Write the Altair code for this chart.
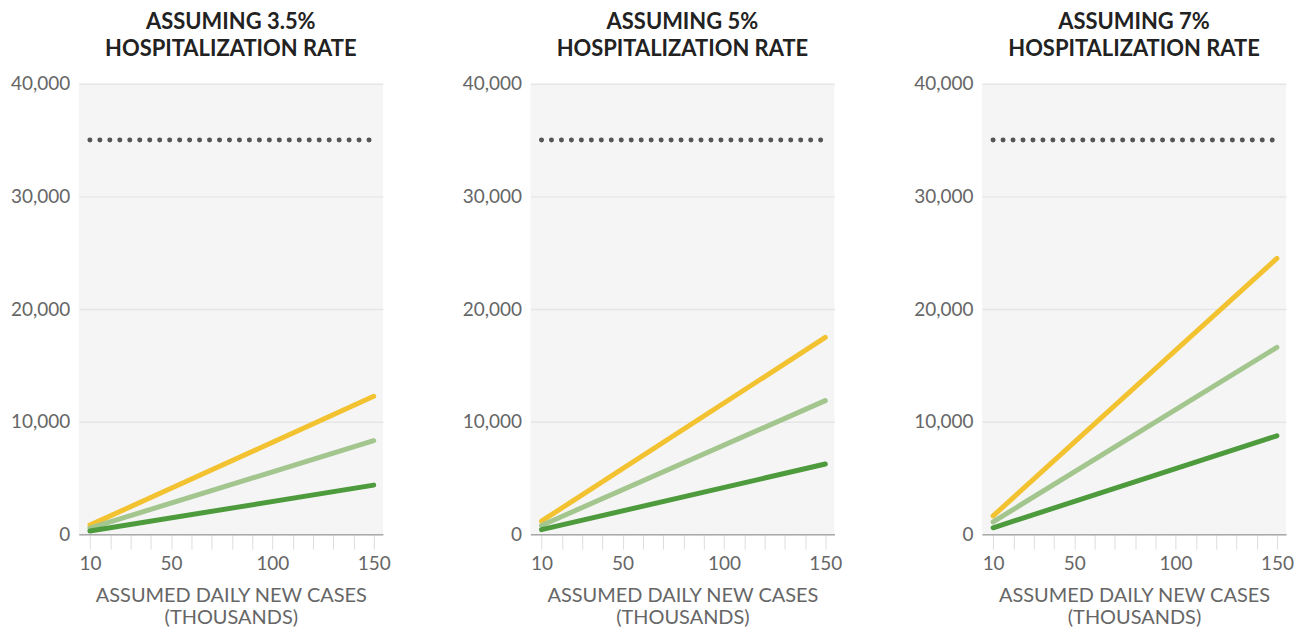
import altair as alt
import pandas as pd

# ---- data ----
rates = ["3.5%", "5%", "7%"]
cases = [10, 150]                      # assumed daily new cases (thousands)
series = ["High", "Medium", "Low"]
series_colors = ["#f2c230", "#a3c58e", "#4d9b3d"]

high_vals = {"3.5%": [817, 12250], "5%": [1167, 17480], "7%": [1633, 24500]}
medium_vals = {"3.5%": [553, 8310], "5%": [791, 11870], "7%": [1107, 16600]}
low_vals = {"3.5%": [292, 4370], "5%": [417, 6240], "7%": [583, 8750]}

capacity = 35000
y_ticks = [0, 10000, 20000, 30000, 40000]
x_ticks = [10, 20, 30, 40, 50, 60, 70, 80, 90, 100, 110, 120, 130, 140, 150]

FONT = "Lato"
TITLE_FONT = "Lato"
LABEL_COLOR = "#666666"


def panel(rate):
    rows = []
    for name, vals in zip(series, [high_vals, medium_vals, low_vals]):
        for c, v in zip(cases, vals[rate]):
            rows.append({"cases": c, "value": v, "series": name})
    df = pd.DataFrame(rows)
    cap_df = pd.DataFrame({"cases": cases, "value": [capacity, capacity]})

    x = alt.X(
        "cases:Q",
        scale=alt.Scale(domain=[4.5, 154.5], nice=False, zero=False),
        axis=alt.Axis(
            values=x_ticks,
            labelExpr="(datum.value == 10 || datum.value % 50 == 0) ? datum.label : ''",
            title=["ASSUMED DAILY NEW CASES", "(THOUSANDS)"],
            titleFontSize=20,
            titleFontWeight="normal",
            titleColor=LABEL_COLOR,
            titleFont=FONT,
            titleLineHeight=22,
            titlePadding=12,
            labelFontSize=19,
            labelColor=LABEL_COLOR,
            labelFont=FONT,
            labelPadding=5,
            tickSize=15,
            tickColor="#dddddd",
            domainColor="#aaaaaa",
            domainWidth=1.5,
            grid=False,
        ),
    )
    y = alt.Y(
        "value:Q",
        scale=alt.Scale(domain=[0, 40000], nice=False),
        axis=alt.Axis(
            values=y_ticks,
            format=",.0f",
            title=None,
            labelFontSize=19,
            labelColor=LABEL_COLOR,
            labelFont=FONT,
            labelPadding=9,
            ticks=False,
            domain=False,
            grid=True,
            gridColor="#e6e6e6",
            gridWidth=1.5,
        ),
    )

    cap = alt.Chart(cap_df).mark_line(
        color="#555555", strokeWidth=5, strokeDash=[0, 10], strokeCap="round"
    ).encode(x=x, y=y)

    lines = alt.Chart(df).mark_line(strokeWidth=5, strokeCap="round").encode(
        x=x,
        y=y,
        color=alt.Color(
            "series:N",
            scale=alt.Scale(domain=series, range=series_colors),
            legend=None,
        ),
        order=alt.Order("series:N"),
        detail="series:N",
    )

    return alt.layer(cap, lines).properties(
        width=305,
        height=452,
        title=alt.TitleParams(
            text=["ASSUMING " + rate, "HOSPITALIZATION RATE"],
            fontSize=22,
            fontWeight="bold",
            color="#222222",
            font=TITLE_FONT,
            anchor="middle",
            lineHeight=27,
            offset=14,
        ),
    )


chart = (
    alt.hconcat(*[panel(r) for r in rates], spacing=148, bounds="flush")
    .properties(padding={"left": 2, "top": 2, "right": 0, "bottom": 0})
    .configure_view(fill="#f5f5f5", stroke=None)
)

chart.save("out.html", embed_options={"renderer": "svg", "actions": False})
